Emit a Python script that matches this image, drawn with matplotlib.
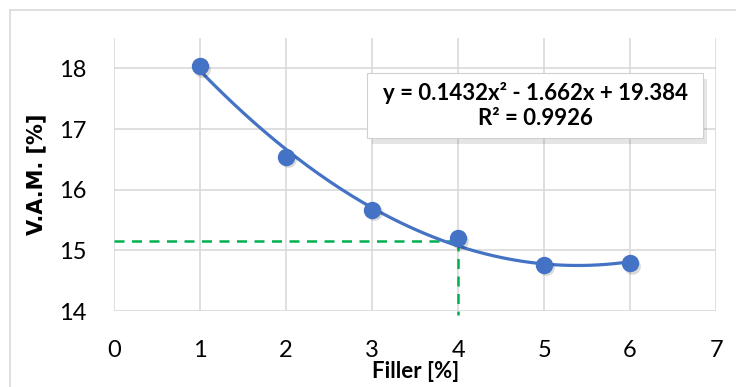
#!/usr/bin/env python3
"""
V.A.M. vs filler content with quadratic trend line.
"""

import matplotlib.pyplot as plt
from matplotlib.patches import Rectangle
import numpy as np

filler = [1, 2, 3, 4, 5, 6]
vam = [18.03, 16.54, 15.67, 15.20, 14.76, 14.79]
eq_text = "y = 0.1432x² - 1.662x + 19.384"
r2_text = "R² = 0.9926"
design_filler = 4
design_vam = 15.15
x_ticks = [0, 1, 2, 3, 4, 5, 6, 7]
y_ticks = [14, 15, 16, 17, 18]

BLUE = '#4472c4'
GREEN = '#00b050'
GRID = '#d9d9d9'


def plot_vam():
    fig = plt.figure(figsize=(7.36, 3.87), dpi=100)
    ax = fig.add_axes([0.155, 0.196, 0.818, 0.706])

    # outer chart frame
    fig.add_artist(plt.Line2D([0.014, 0.014], [0, 0.975], color=GRID, lw=1.2))
    fig.add_artist(plt.Line2D([0.014, 1.0], [0.975, 0.975], color=GRID, lw=1.2))

    # quadratic trend line through the points
    coef = np.polyfit(filler, vam, 2)
    xs = np.linspace(min(filler), max(filler), 200)
    ax.plot(xs, np.polyval(coef, xs), color=BLUE, lw=2.3, zorder=3)
    # soft shadow under markers
    ax.plot(np.array(filler) + 0.02, np.array(vam) - 0.04, 'o', color='#000000',
            alpha=0.15, ms=12, mec='none', zorder=3)
    ax.plot(filler, vam, 'o', color=BLUE, ms=11.5, mec=BLUE, zorder=4)

    ax.plot([0, design_filler], [design_vam, design_vam], color=GREEN,
            lw=1.8, dashes=(4, 3), zorder=2, clip_on=False)
    ax.plot([design_filler, design_filler], [design_vam, 13.93], color=GREEN,
            lw=1.8, dashes=(4, 3), zorder=2, clip_on=False)

    ax.set_xlim(0, 7)
    ax.set_ylim(14, 18.5)
    ax.set_xticks(x_ticks)
    ax.set_yticks(y_ticks)
    ax.grid(True, color=GRID, lw=1.2)
    ax.set_axisbelow(True)
    for s in ax.spines.values():
        s.set_visible(False)
    ax.tick_params(axis='y', length=0, labelsize=17, pad=20)
    ax.tick_params(axis='x', length=0, labelsize=17, pad=21)
    for lbl in ax.get_xticklabels() + ax.get_yticklabels():
        lbl.set_family('Lato')

    fig.text(416 / 736, 1 - 371 / 387, "Filler [%]", ha='center', va='center',
             fontsize=16, fontweight='bold', family='Lato')
    ax.set_ylabel("V.A.M. [%]", fontsize=15, fontweight='bold', labelpad=9)

    # trend line equation box with shadow
    bx, by, bw, bh = 0.499, 0.643, 0.456, 0.168
    fig.add_artist(Rectangle((bx + 0.006, by - 0.014), bw, bh,
                             transform=fig.transFigure, fc='#000000', ec='none',
                             alpha=0.10, zorder=5))
    fig.add_artist(Rectangle((bx, by), bw, bh, transform=fig.transFigure,
                             fc='white', ec='#d0d0d0', lw=0.8, zorder=6))
    fig.text(bx + bw / 2, by + bh / 2, eq_text + "\n" + r2_text, ha='center',
             va='center', fontsize=16, fontweight='bold', family='Lato',
             zorder=7, linespacing=1.2)

    fig.savefig("out.png", dpi=100)
    plt.close(fig)


if __name__ == "__main__":
    plot_vam()
